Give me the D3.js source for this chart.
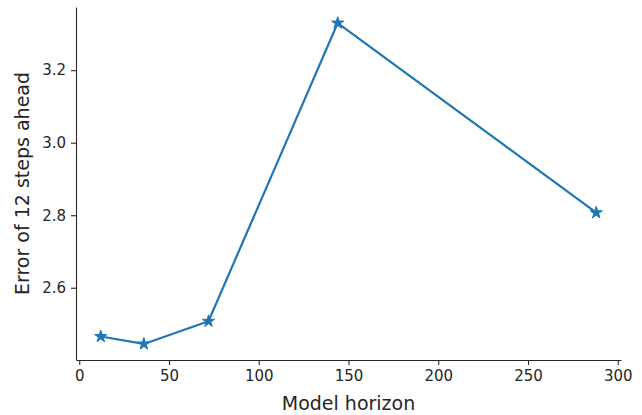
<!DOCTYPE html>
<html>
<head>
<meta charset="utf-8">
<script src="https://cdn.jsdelivr.net/npm/d3@7"></script>
<style>
  body { margin: 0; background: #fff; }
  svg { display: block; font-family: "DejaVu Sans", sans-serif; }
  .axis path, .axis line { stroke: #262626; }
</style>
</head>
<body>
<svg id="chart"></svg>
<script>
const horizons = [12, 36, 72, 144, 288];
const errors = [2.4655, 2.445, 2.5075, 3.330, 2.807];
const xTicks = [0, 50, 100, 150, 200, 250, 300];
const yTicks = [2.6, 2.8, 3.0, 3.2];

const fullWidth = 642;
const fullHeight = 415;
const margin = {top: 7, right: 21, bottom: 55, left: 76};
const width = fullWidth - margin.left - margin.right;
const height = fullHeight - margin.top - margin.bottom;

const svg = d3.select('#chart')
  .attr('width', fullWidth)
  .attr('height', fullHeight);

const chart = svg.append('g')
  .attr('transform', `translate(${margin.left}, ${margin.top})`);

// matplotlib-style 5% padding around the data
const xPad = (d3.max(horizons) - d3.min(horizons)) * 0.05;
const yPad = (d3.max(errors) - d3.min(errors)) * 0.05;

const x = d3.scaleLinear()
  .domain([d3.min(horizons) - xPad, d3.max(horizons) + xPad])
  .range([0, width]);

const y = d3.scaleLinear()
  .domain([d3.min(errors) - yPad, d3.max(errors) + yPad])
  .range([height, 0]);

const xAxis = d3.axisBottom(x)
  .tickValues(xTicks)
  .tickFormat(d3.format('d'))
  .tickSizeInner(5)
  .tickSizeOuter(0)
  .tickPadding(5);

const yAxis = d3.axisLeft(y)
  .tickValues(yTicks)
  .tickFormat(d3.format('.1f'))
  .tickSizeInner(5)
  .tickSizeOuter(0)
  .tickPadding(5);

function styleAxis(g) {
  g.attr('font-family', '"DejaVu Sans", sans-serif')
    .attr('font-size', 15);
  g.select('.domain').attr('stroke-width', 1.1);
  g.selectAll('.tick line').attr('stroke-width', 1.1);
  g.selectAll('.tick text').attr('fill', '#262626');
}

chart.append('g')
  .attr('class', 'x axis')
  .attr('transform', `translate(0, ${height})`)
  .call(xAxis)
  .call(styleAxis);

chart.append('g')
  .attr('class', 'y axis')
  .call(yAxis)
  .call(styleAxis);

// Axis labels
svg.append('text')
  .attr('x', margin.left + width / 2)
  .attr('y', 410)
  .attr('text-anchor', 'middle')
  .attr('font-size', 19)
  .attr('fill', '#262626')
  .text('Model horizon');

svg.append('text')
  .attr('transform', `translate(29, ${margin.top + height / 2}) rotate(-90)`)
  .attr('text-anchor', 'middle')
  .attr('font-size', 19)
  .attr('fill', '#262626')
  .text('Error of 12 steps ahead');

const points = horizons.map((h, i) => ({h, e: errors[i]}));

const line = d3.line()
  .x(d => x(d.h))
  .y(d => y(d.e));

chart.append('path')
  .datum(points)
  .attr('fill', 'none')
  .attr('stroke', '#1f77b4')
  .attr('stroke-width', 2.2)
  .attr('stroke-linejoin', 'round')
  .attr('d', line);

const star = d3.symbol().type(d3.symbolStar).size(46);

chart.selectAll('.marker')
    .data(points)
  .enter().append('path')
    .attr('class', 'marker')
    .attr('d', star)
    .attr('fill', '#1f77b4')
    .attr('stroke', '#1f77b4')
    .attr('stroke-width', 1)
    .attr('transform', d => `translate(${x(d.h)}, ${y(d.e)})`);
</script>
</body>
</html>
